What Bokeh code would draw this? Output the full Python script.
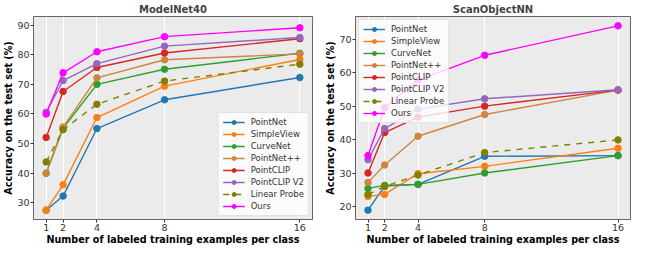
from bokeh.plotting import figure
from bokeh.layouts import row
from bokeh.models import FixedTicker, Range1d, Legend
from bokeh.embed import file_html
from bokeh.resources import INLINE

shots = [1, 2, 4, 8, 16]
methods = ["PointNet", "SimpleView", "CurveNet", "PointNet++", "PointCLIP",
           "PointCLIP V2", "Linear Probe", "Ours"]
colors = ["#1f77b4", "#ff7f0e", "#2ca02c", "#cd853f", "#d62728",
          "#9467bd", "#808000", "#ff00ff"]
dashes = ["solid"] * 6 + ["dashed", "solid"]

modelnet_pointnet = [27.5, 32.3, 55.1, 64.8, 72.3]
modelnet_simpleview = [27.6, 36.1, 58.8, 69.4, 78.4]
modelnet_curvenet = [40.0, 55.2, 70.0, 75.1, 80.5]
modelnet_pointnetpp = [40.1, 55.6, 72.2, 78.3, 80.3]
modelnet_pointclip = [52.1, 67.6, 75.7, 80.6, 85.4]
modelnet_pointclip_v2 = [60.6, 71.3, 77.0, 82.9, 85.8]
modelnet_linear_probe = [43.8, 54.7, 63.3, 71.1, 76.8]
modelnet_ours = [60.0, 73.9, 81.0, 86.1, 89.1]

scan_pointnet = [18.9, 26.1, 26.6, 35.0, 35.2]
scan_simpleview = [23.0, 23.6, 29.8, 32.0, 37.4]
scan_curvenet = [25.4, 26.3, 26.6, 30.0, 35.2]
scan_pointnetpp = [27.2, 32.4, 41.0, 47.5, 54.8]
scan_pointclip = [30.0, 42.1, 46.7, 50.0, 54.8]
scan_pointclip_v2 = [34.0, 43.3, 49.1, 52.2, 54.9]
scan_linear_probe = [23.6, 26.0, 29.4, 36.1, 39.9]
scan_ours = [35.2, 49.5, 57.8, 65.2, 74.0]

modelnet = [modelnet_pointnet, modelnet_simpleview, modelnet_curvenet, modelnet_pointnetpp,
            modelnet_pointclip, modelnet_pointclip_v2, modelnet_linear_probe, modelnet_ours]
scan = [scan_pointnet, scan_simpleview, scan_curvenet, scan_pointnetpp,
        scan_pointclip, scan_pointclip_v2, scan_linear_probe, scan_ours]

y_ticks_modelnet = [30, 40, 50, 60, 70, 80, 90]
y_ticks_scan = [20, 30, 40, 50, 60, 70]

x_label = "Number of labeled training examples per class"
y_label = "Accuracy on the test set (%)"

FONT = "DejaVu Sans"


def make(title, data, yr, yticks, legend_loc, width, bl, br):
    p = figure(width=width, height=247, output_backend="svg", toolbar_location=None,
               x_range=Range1d(0.25, 16.75), y_range=Range1d(*yr),
               min_border_left=bl, min_border_right=br, min_border_top=0, min_border_bottom=0)
    p.title.text = title
    p.title.align = "center"
    p.title.text_font = FONT
    p.title.text_font_size = "10px"
    p.title.text_font_style = "bold"
    p.title.standoff = 3
    p.title.offset = 0
    p.background_fill_color = "#ebebeb"
    p.outline_line_color = "#666666"
    p.outline_line_width = 1
    p.xgrid.grid_line_color = "white"
    p.xgrid.grid_line_width = 1
    p.ygrid.grid_line_color = None
    p.xaxis.ticker = FixedTicker(ticks=shots)
    p.yaxis.ticker = FixedTicker(ticks=yticks)
    for ax in (p.xaxis, p.yaxis):
        ax.axis_line_color = None
        ax.major_tick_in = 0
        ax.major_tick_out = 3
        ax.minor_tick_line_color = None
        ax.major_tick_line_color = "#333333"
        ax.major_label_text_font = FONT
        ax.major_label_text_font_size = "9.5px"
        ax.major_label_text_color = "#333333"
        ax.major_label_standoff = 1
        ax.axis_label_text_font = FONT
        ax.axis_label_text_font_size = "9.6px"
        ax.axis_label_text_font_style = "bold"
        ax.axis_label_text_color = "black"
        ax.axis_label_standoff = 0
    p.xaxis.axis_label = x_label
    p.yaxis.axis_label = y_label
    items = []
    for name, c, d, vals in zip(methods, colors, dashes, data):
        r1 = p.line(shots, vals, line_color=c, line_width=1.4, line_dash=d)
        r2 = p.scatter(shots, vals, size=6.5, fill_color=c, line_color=c)
        items.append((name, [r1, r2]))
    leg = Legend(items=items, location=legend_loc)
    leg.label_text_font = FONT
    leg.label_text_font_size = "8.5px"
    leg.label_text_color = "#333333"
    leg.glyph_width = 22
    leg.glyph_height = 10
    leg.label_height = 10
    leg.spacing = 2
    leg.padding = 4
    leg.margin = 3
    leg.label_standoff = 6
    leg.background_fill_alpha = 0.8
    leg.border_line_color = "#cccccc"
    p.add_layout(leg)
    return p


p1 = make("ModelNet40", modelnet, (24.4, 92.9), y_ticks_modelnet, "bottom_right", 322, 28, 10)
p2 = make("ScanObjectNN", scan, (16.1, 76.8), y_ticks_scan, "top_left", 309, 28, 1)
layout = row(p1, p2)

open("out.html", "w").write(file_html(layout, INLINE))
